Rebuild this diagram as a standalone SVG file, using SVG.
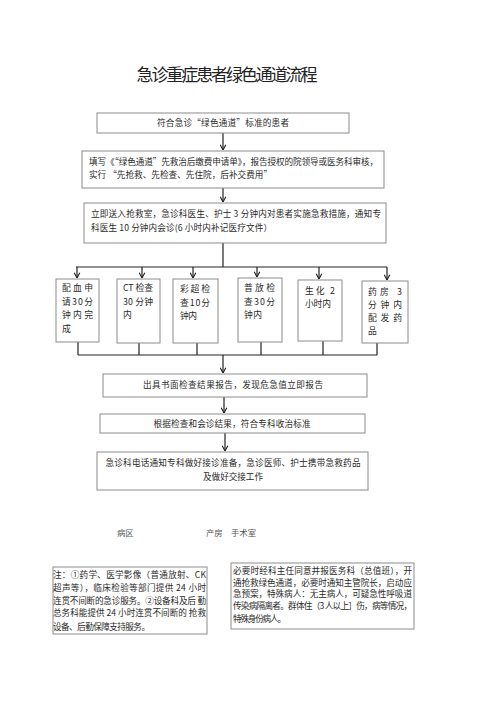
<svg xmlns="http://www.w3.org/2000/svg" width="500" height="707" viewBox="0 0 500 707">
<style>
.bg{fill:#fff}
.box{fill:#fff;stroke:#8c8c8c;stroke-width:1}
.t{font-family:"Noto Sans CJK SC","Liberation Serif",sans-serif;font-size:8.6px;fill:#2a2a2a}
.s{font-family:"Noto Sans CJK SC","Liberation Serif",sans-serif;font-size:8.8px;fill:#2a2a2a}
.title{font-family:"Noto Sans CJK SC","Liberation Serif",sans-serif;font-size:17px;fill:#222}
.lbl{font-family:"Noto Sans CJK SC","Liberation Serif",sans-serif;font-size:8.4px;fill:#555}
.c{fill:none;stroke:#222;stroke-width:1.2}
.a{fill:none;stroke:#222;stroke-width:1.2;marker-end:url(#arr)}
</style>
<defs>
<marker id="arr" viewBox="0 0 10 10" refX="9.5" refY="5" markerUnits="userSpaceOnUse" markerWidth="7" markerHeight="7" orient="auto">
<path d="M2,1 L9.5,5 L2,9" fill="none" stroke="#222" stroke-width="1.6"/>
</marker>
<clipPath id="clipL"><rect x="53" y="567" width="154" height="67"/></clipPath>
</defs>
<rect class="bg" x="0" y="0" width="500" height="707"/>
<text class="title" x="227" y="81" text-anchor="middle" textLength="181" lengthAdjust="spacing">急诊重症患者绿色通道流程</text>

<g id="connectors">
<line class="a" x1="223" y1="133" x2="223" y2="150"/>
<line class="a" x1="223" y1="188" x2="223" y2="202"/>
<line class="c" x1="223" y1="243" x2="223" y2="267"/>
<line class="c" x1="76" y1="267" x2="387" y2="267"/>
<line class="a" x1="77" y1="267" x2="77" y2="278"/>
<line class="a" x1="142" y1="267" x2="142" y2="278"/>
<line class="a" x1="193" y1="267" x2="193" y2="278"/>
<line class="a" x1="257" y1="267" x2="257" y2="277"/>
<line class="a" x1="319" y1="267" x2="319" y2="279"/>
<line class="a" x1="387" y1="267" x2="387" y2="280"/>
<line class="c" x1="78" y1="342" x2="78" y2="355"/>
<line class="c" x1="139" y1="343" x2="139" y2="355"/>
<line class="c" x1="197" y1="343" x2="197" y2="355"/>
<line class="c" x1="261" y1="341" x2="261" y2="355"/>
<line class="c" x1="323" y1="341" x2="323" y2="355"/>
<line class="c" x1="377" y1="343" x2="377" y2="355"/>
<line class="c" x1="78" y1="355" x2="377" y2="355"/>
<line class="a" x1="223" y1="355" x2="223" y2="373"/>
<line class="a" x1="224" y1="397" x2="224" y2="413"/>
<line class="a" x1="225" y1="433" x2="225" y2="451"/>
</g>

<g id="n1">
<rect class="box" x="97" y="113" width="252" height="20"/>
<text class="t" x="223" y="126" text-anchor="middle" textLength="132" lengthAdjust="spacing">符合急诊“绿色通道”标准的患者</text>
</g>
<g id="n2">
<rect class="box" x="82" y="151" width="302" height="37"/>
<text class="t" x="89" y="165" textLength="289" lengthAdjust="spacing">填写《“绿色通道”先救治后缴费申请单》，报告授权的院领导或医务科审核，</text>
<text class="t" x="89" y="178" textLength="183" lengthAdjust="spacing">实行 “先抢救、先检查、先住院，后补交费用”</text>
</g>
<g id="n3">
<rect class="box" x="84" y="203" width="302" height="40"/>
<text class="t" x="91" y="217" textLength="290" lengthAdjust="spacing">立即送入抢救室，急诊科医生、护士 3  分钟内对患者实施急救措施，通知专</text>
<text class="t" x="91" y="231" textLength="181" lengthAdjust="spacing">科医生  10  分钟内会诊(6 小时内补记医疗文件）</text>
</g>

<g id="nA">
<rect class="box" x="56" y="279" width="43" height="63"/>
<text class="s" x="62" y="291" textLength="31" lengthAdjust="spacing">配血申</text>
<text class="s" x="62" y="304.5" textLength="31" lengthAdjust="spacing">请30分</text>
<text class="s" x="62" y="318" textLength="31" lengthAdjust="spacing">钟内完</text>
<text class="s" x="62" y="331.5">成</text>
</g>
<g id="nB">
<rect class="box" x="117" y="279" width="43" height="64"/>
<text class="s" x="123" y="291" textLength="30" lengthAdjust="spacing">CT 检查</text>
<text class="s" x="123" y="304.5" textLength="30" lengthAdjust="spacing">30 分钟</text>
<text class="s" x="123" y="318">内</text>
</g>
<g id="nC">
<rect class="box" x="173" y="279" width="45" height="64"/>
<text class="s" x="180" y="292" textLength="30" lengthAdjust="spacing">彩超检</text>
<text class="s" x="180" y="305.5" textLength="30" lengthAdjust="spacing">查10分</text>
<text class="s" x="180" y="319" textLength="17" lengthAdjust="spacing">钟内</text>
</g>
<g id="nD">
<rect class="box" x="238" y="278" width="44" height="64"/>
<text class="s" x="244" y="291" textLength="31" lengthAdjust="spacing">普放检</text>
<text class="s" x="244" y="304.5" textLength="31" lengthAdjust="spacing">查30分</text>
<text class="s" x="244" y="318" textLength="18" lengthAdjust="spacing">钟内</text>
</g>
<g id="nE">
<rect class="box" x="298" y="280" width="44" height="61"/>
<text class="s" x="305" y="294" textLength="30" lengthAdjust="spacing">生化 2</text>
<text class="s" x="305" y="307" textLength="26" lengthAdjust="spacing">小时内</text>
</g>
<g id="nF">
<rect class="box" x="362" y="281" width="46" height="62"/>
<text class="s" x="368" y="295" textLength="34" lengthAdjust="spacing">药房 3</text>
<text class="s" x="368" y="308" textLength="34" lengthAdjust="spacing">分钟内</text>
<text class="s" x="368" y="321" textLength="34" lengthAdjust="spacing">配发药</text>
<text class="s" x="368" y="334">品</text>
</g>

<g id="n4">
<rect class="box" x="103" y="374" width="264" height="23"/>
<text class="t" x="233" y="388" text-anchor="middle" textLength="180" lengthAdjust="spacing">出具书面检查结果报告，发现危急值立即报告</text>
</g>
<g id="n5">
<rect class="box" x="100" y="414" width="265" height="19"/>
<text class="t" x="232" y="427" text-anchor="middle" textLength="157" lengthAdjust="spacing">根据检查和会诊结果，符合专科收治标准</text>
</g>
<g id="n6">
<rect class="box" x="97" y="452" width="271" height="38"/>
<text class="t" x="233" y="466" text-anchor="middle" textLength="255" lengthAdjust="spacing">急诊科电话通知专科做好接诊准备，急诊医师、护士携带急救药品</text>
<text class="t" x="233" y="480" text-anchor="middle" textLength="60" lengthAdjust="spacing">及做好交接工作</text>
</g>

<g id="labels">
<text class="lbl" x="117" y="536">病区</text>
<text class="lbl" x="206" y="536">产房</text>
<text class="lbl" x="231" y="536">手术室</text>
</g>

<g id="noteL">
<rect class="box" x="53" y="567" width="154" height="67"/>
<g clip-path="url(#clipL)">
<text class="t" x="53" y="578" textLength="153" lengthAdjust="spacing">注：①药学、医学影像（普通放射、CK</text>
<text class="t" x="53" y="591" textLength="153" lengthAdjust="spacing">超声等），临床检验等部门提供 24 小时</text>
<text class="t" x="53" y="604" textLength="153" lengthAdjust="spacing">连贯不间断的急诊服务。②设备科及后 勤</text>
<text class="t" x="53" y="616" textLength="153" lengthAdjust="spacing">总务科能提供 24 小时连贯不间断的 抢救</text>
<text class="t" x="53" y="630" textLength="97" lengthAdjust="spacing">设备、后勤保障支持服务。</text>
</g>
</g>
<g id="noteR">
<rect class="box" x="231" y="563" width="183" height="66"/>
<text class="t" x="233" y="574" textLength="179" lengthAdjust="spacing">必要时经科主任同意并报医务科（总值班），开</text>
<text class="t" x="233" y="586" textLength="179" lengthAdjust="spacing">通抢救绿色通道，必要时通知主管院长，启动应</text>
<text class="t" x="233" y="597" textLength="179" lengthAdjust="spacing">急预案，特殊病人：无主病人，可疑急性呼吸道</text>
<text class="t" x="233" y="609" textLength="179" lengthAdjust="spacing">传染病隔离者。群体住（3 人以上］伤，病等情况，</text>
<text class="t" x="233" y="622" textLength="53" lengthAdjust="spacing">特殊身份病人。</text>
</g>
</svg>
